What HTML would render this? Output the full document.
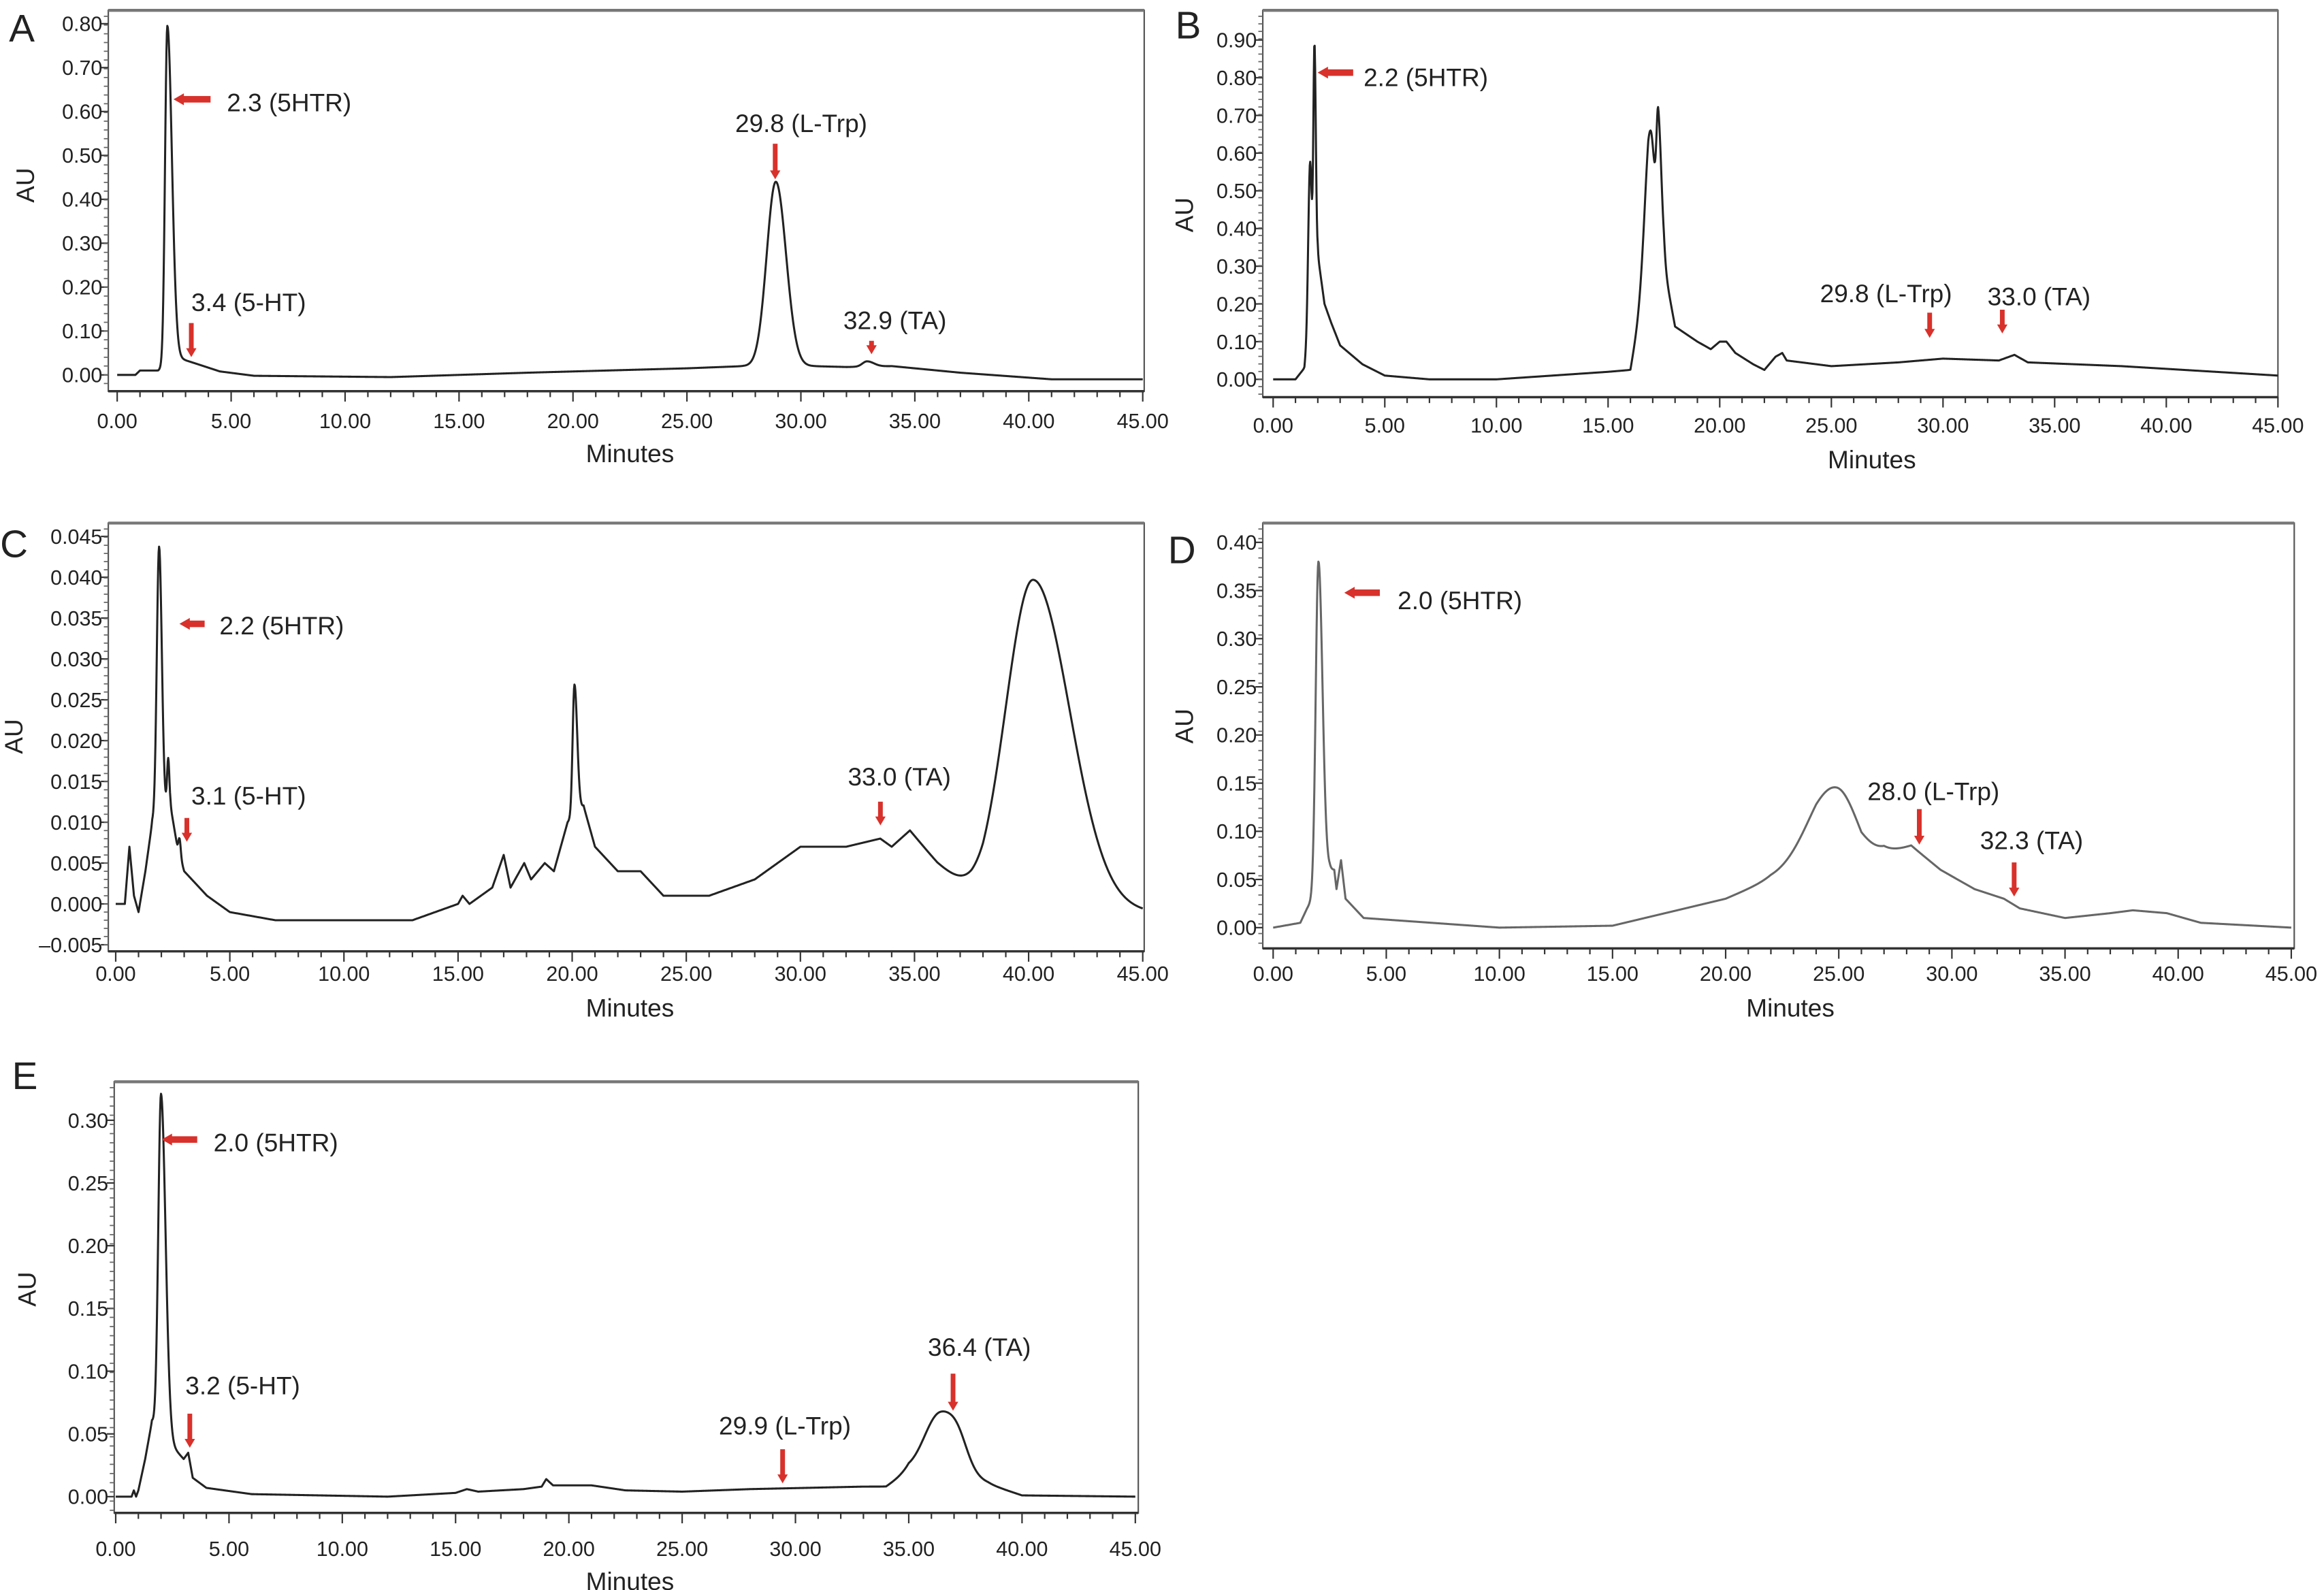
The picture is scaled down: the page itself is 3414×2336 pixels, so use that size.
<!DOCTYPE html>
<html><head><meta charset="utf-8">
<style>
html,body{margin:0;padding:0;background:#fff;}
svg{display:block;}
text{font-family:"Liberation Sans",Arial,sans-serif;fill:#222;}
</style></head>
<body>
<svg id="s" width="3414" height="2336" viewBox="0 0 1568 1073" xmlns="http://www.w3.org/2000/svg"></svg>
<script>
const S=document.getElementById('s');let out='';
function g(t,c,h,sl,sr){const s=t<c?sl:sr;const d=(t-c)/s;return h*Math.exp(-0.5*d*d);}
function interp(pts,t){if(t<=pts[0][0])return pts[0][1];for(let i=1;i<pts.length;i++){if(t<=pts[i][0]){const a=pts[i-1],b=pts[i];return a[1]+(b[1]-a[1])*(t-a[0])/(b[0]-a[0]);}}return pts[pts.length-1][1];}
function panel(P){
 const {bx0,bx1,by0,by1,x0,x45,yv0,yp0,yv1,yp1,ticks,fmt,minor,base,peaks,color,letter,lx,ly,aux,auy,mx,my,tly,ann}=P;
 const X=t=>x0+(x45-x0)*t/45, Y=v=>yp0+(yp1-yp0)*(v-yv0)/(yv1-yv0);
 out+=`<rect x="${bx0}" y="${by0}" width="${bx1-bx0}" height="${by1-by0}" fill="none" stroke="#555" stroke-width="1"/>`;
 out+=`<line x1="${bx0}" y1="${by0}" x2="${bx1}" y2="${by0}" stroke="#777" stroke-width="2"/>`;
 out+=`<line x1="${bx0}" y1="${by1}" x2="${bx1}" y2="${by1}" stroke="#333" stroke-width="1.6"/>`;
 for(let m=0;m<=45;m++){const x=X(m);const maj=m%5==0;out+=`<line x1="${x}" y1="${by1}" x2="${x}" y2="${by1+(maj?7:4)}" stroke="#333" stroke-width="1"/>`;
  if(maj)out+=`<text x="${x}" y="${tly}" font-size="14" text-anchor="middle">${m.toFixed(2)}</text>`;}
 for(const v of ticks){const y=Y(v);out+=`<line x1="${bx0-5}" y1="${y}" x2="${bx0}" y2="${y}" stroke="#333"/>`;
  out+=`<text x="${bx0-4}" y="${y+5}" font-size="14" text-anchor="end">${fmt(v)}</text>`;}
 for(let y=by0+4;y<by1;y+=minor){out+=`<line x1="${bx0-3}" y1="${y}" x2="${bx0}" y2="${y}" stroke="#666" stroke-width="0.8"/>`;}
 out+=`<text x="${mx}" y="${my}" font-size="17" text-anchor="middle">Minutes</text>`;
 out+=`<text x="${aux}" y="${auy}" font-size="17" text-anchor="middle" transform="rotate(-90 ${aux} ${auy})">AU</text>`;
 out+=`<text x="${lx}" y="${ly}" font-size="26">${letter}</text>`;
 let d='';for(let t=0;t<=45.0001;t+=0.02){let v=interp(base,t);for(const p of peaks)v+=g(t,...p);d+=(d?'L':'M')+X(t).toFixed(2)+' '+Y(v).toFixed(2);}
 out+=`<path d="${d}" fill="none" stroke="${color}" stroke-width="1.4" stroke-linejoin="round"/>`;
 for(const a of ann){
  out+=`<text x="${a.tx}" y="${a.ty}" font-size="17">${a.t}</text>`;
  if(a.dir=='L'){const {x1,x2,y}=a;out+=`<rect x="${x1+6}" y="${y-2.2}" width="${x2-x1-6}" height="4.4" fill="#d8312b"/><polygon points="${x1},${y} ${x1+7},${y-4} ${x1+7},${y+4}" fill="#d8312b"/>`;}
  else {const {x,y1,y2}=a;out+=`<rect x="${x-1.6}" y="${y1}" width="3.2" height="${y2-y1-5}" fill="#d8312b"/><polygon points="${x},${y2} ${x-3.5},${y2-6} ${x+3.5},${y2-6}" fill="#d8312b"/>`;}
 }
}
const f2=v=>v.toFixed(2), f3=v=>(v<0?'\u2013'+(-v).toFixed(3):v.toFixed(3));
const rng=(a,b,s)=>{const r=[];for(let v=a;v<=b+1e-9;v+=s)r.push(+v.toFixed(4));return r;};
// A
panel({bx0:73,bx1:772,by0:7,by1:264,x0:79,x45:771,yv0:0,yp0:253,yv1:0.8,yp1:16,ticks:rng(0,0.8,0.1),fmt:f2,minor:5.9,
 base:[[0,0],[0.8,0],[1,0.01],[1.8,0.01],[2.6,0.04],[3.5,0.025],[4.5,0.008],[6,-0.002],[12,-0.005],[18,0.005],[25,0.015],[27.5,0.02],[30.5,0.02],[32,0.018],[34,0.02],[37,0.005],[41,-0.01],[45,-0.01]],
 peaks:[[2.2,0.77,0.1,0.2],[28.9,0.42,0.4,0.45],[32.9,0.012,0.2,0.3]],color:'#222',letter:'A',lx:6,ly:28,aux:23,auy:125,mx:425,my:312,tly:289,
 ann:[{t:'2.3 (5HTR)',tx:153,ty:75,dir:'L',x1:117,x2:142,y:67},{t:'3.4 (5-HT)',tx:129,ty:210,dir:'D',x:129,y1:218,y2:241},
 {t:'29.8 (L-Trp)',tx:496,ty:89,dir:'D',x:523,y1:97,y2:121},{t:'32.9 (TA)',tx:569,ty:222,dir:'D',x:588,y1:230,y2:239}]});
// B
panel({bx0:852,bx1:1537,by0:7,by1:268,x0:859,x45:1537,yv0:0,yp0:256,yv1:0.9,yp1:27,ticks:rng(0,0.9,0.1),fmt:f2,minor:5.1,
 base:[[0,0],[1,0],[1.4,0.03],[2.0,0.33],[2.3,0.2],[2.6,0.15],[3,0.09],[4,0.04],[5,0.01],[7,0],[10,0],[15,0.02],[16,0.025],[16.8,0.3],[17.5,0.3],[18,0.14],[19,0.1],[19.6,0.08],[20,0.1],[20.3,0.1],[20.7,0.07],[21.5,0.04],[22,0.025],[22.5,0.06],[22.8,0.07],[23,0.05],[25,0.035],[28,0.045],[30,0.055],[32.5,0.05],[33.2,0.065],[33.8,0.045],[38,0.035],[45,0.01]],
 peaks:[[1.65,0.42,0.08,0.08],[1.85,0.62,0.05,0.06],[16.9,0.36,0.25,0.2],[17.25,0.34,0.08,0.15]],color:'#222',letter:'B',lx:793,ly:26,aux:805,auy:145,mx:1263,my:316,tly:292,
 ann:[{t:'2.2 (5HTR)',tx:920,ty:58,dir:'L',x1:889,x2:913,y:49},{t:'29.8 (L-Trp)',tx:1228,ty:204,dir:'D',x:1302,y1:211,y2:228},
 {t:'33.0 (TA)',tx:1341,ty:206,dir:'D',x:1351,y1:209,y2:225}]});
// C
panel({bx0:73,bx1:772,by0:353,by1:642,x0:78,x45:771,yv0:0,yp0:610,yv1:0.045,yp1:362,ticks:rng(-0.005,0.045,0.005),fmt:f3,minor:5.5,
 base:[[0,0],[0.4,0],[0.6,0.007],[0.8,0.001],[1.0,-0.001],[1.3,0.004],[1.6,0.01],[2.4,0.012],[2.7,0.007],[3,0.004],[4,0.001],[5,-0.001],[7,-0.002],[13,-0.002],[15,0],[15.2,0.001],[15.5,0],[16.5,0.002],[17,0.006],[17.3,0.002],[17.9,0.005],[18.2,0.003],[18.8,0.005],[19.2,0.004],[19.8,0.01],[20.5,0.012],[21,0.007],[22,0.004],[23,0.004],[24,0.001],[26,0.001],[28,0.003],[30,0.007],[32,0.007],[33.5,0.008],[34,0.007],[34.8,0.009],[36,0.005],[37.5,0.001],[38,0],[45,-0.001]],
 peaks:[[1.9,0.033,0.1,0.12],[2.3,0.006,0.05,0.05],[2.8,0.002,0.05,0.05],[20.1,0.016,0.08,0.12],[40.2,0.04,1.2,1.6]],color:'#222',letter:'C',lx:0,ly:376,aux:15,auy:497,mx:425,my:686,tly:662,
 ann:[{t:'2.2 (5HTR)',tx:148,ty:428,dir:'L',x1:121,x2:138,y:421},{t:'3.1 (5-HT)',tx:129,ty:543,dir:'D',x:126,y1:552,y2:568},
 {t:'33.0 (TA)',tx:572,ty:530,dir:'D',x:594,y1:541,y2:557}]});
// D
panel({bx0:852,bx1:1548,by0:353,by1:640,x0:859,x45:1546,yv0:0,yp0:626,yv1:0.4,yp1:366,ticks:rng(0,0.4,0.05),fmt:f2,minor:6.5,
 base:[[0,0],[1.2,0.005],[1.5,0.02],[2.5,0.06],[2.7,0.06],[2.8,0.04],[3,0.07],[3.2,0.03],[4,0.01],[10,0],[15,0.002],[20,0.03],[22,0.05],[24,0.06],[26,0.05],[27,0.075],[28.2,0.085],[29.5,0.06],[31,0.04],[32.3,0.03],[33,0.02],[35,0.01],[37,0.015],[38,0.018],[39.5,0.015],[41,0.005],[45,0]],
 peaks:[[2.0,0.34,0.12,0.18],[24.9,0.09,1.2,1.0]],color:'#666',letter:'D',lx:788,ly:380,aux:805,auy:490,mx:1208,my:686,tly:662,
 ann:[{t:'2.0 (5HTR)',tx:943,ty:411,dir:'L',x1:907,x2:931,y:400},{t:'28.0 (L-Trp)',tx:1260,ty:540,dir:'D',x:1295,y1:546,y2:570},
 {t:'32.3 (TA)',tx:1336,ty:573,dir:'D',x:1359,y1:582,y2:605}]});
// E
panel({bx0:77,bx1:768,by0:730,by1:1021,x0:78,x45:766,yv0:0,yp0:1010,yv1:0.3,yp1:756,ticks:rng(0,0.3,0.05),fmt:f2,minor:6.2,
 base:[[0,0],[0.7,0],[0.8,0.005],[0.9,0],[1,0.005],[1.3,0.03],[1.6,0.06],[2.5,0.04],[3,0.03],[3.2,0.035],[3.4,0.015],[4,0.007],[6,0.002],[12,0],[15,0.003],[15.5,0.006],[16,0.004],[18,0.006],[18.8,0.008],[19,0.014],[19.3,0.009],[21,0.009],[22.5,0.005],[25,0.004],[28,0.006],[33,0.008],[34,0.008],[35,0.02],[38.5,0.01],[40,0.001],[45,0]],
 peaks:[[2.0,0.27,0.12,0.2],[36.4,0.05,0.7,0.8],[37.2,0.012,0.4,0.4]],color:'#222',letter:'E',lx:8,ly:735,aux:24,auy:870,mx:425,my:1073,tly:1050,
 ann:[{t:'2.0 (5HTR)',tx:144,ty:777,dir:'L',x1:109,x2:133,y:769},{t:'3.2 (5-HT)',tx:125,ty:941,dir:'D',x:128,y1:954,y2:977},
 {t:'29.9 (L-Trp)',tx:485,ty:968,dir:'D',x:528,y1:978,y2:1001},{t:'36.4 (TA)',tx:626,ty:915,dir:'D',x:643,y1:927,y2:952}]});
S.innerHTML=out;
</script>
</body></html>
